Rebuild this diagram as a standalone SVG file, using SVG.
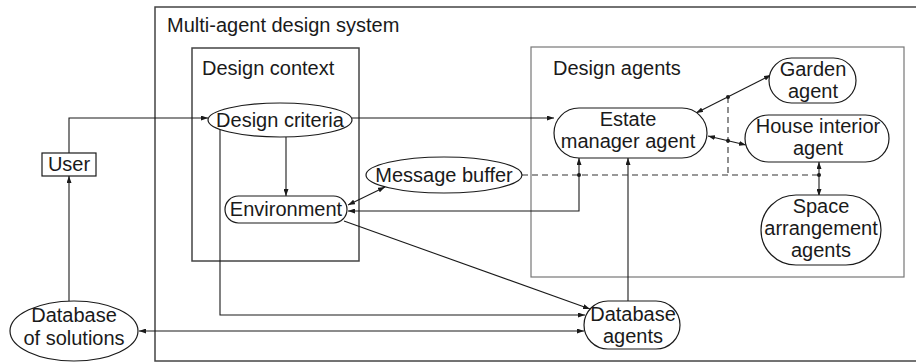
<svg xmlns="http://www.w3.org/2000/svg" width="916" height="363" viewBox="0 0 916 363">
  <style>
    text { font-family: "Liberation Sans", Arial, sans-serif; font-size: 20px; fill: #1a1a1a; }
    .mid { text-anchor: middle; }
    .node { fill: #fff; stroke: #1a1a1a; stroke-width: 1.2; }
    .frame { fill: none; stroke: #444; stroke-width: 1.5; }
    .frame2 { fill: none; stroke: #777; stroke-width: 1.2; }
    .link { fill: none; stroke: #1a1a1a; stroke-width: 1.1; }
    .arr { marker-end: url(#ah); }
    .both { marker-start: url(#ah); marker-end: url(#ah); }
    .dash { fill: none; stroke: #333; stroke-width: 1.1; stroke-dasharray: 6 4; }
    .dot { fill: #1a1a1a; }
  </style>
  <defs>
    <marker id="ah" markerUnits="userSpaceOnUse" markerWidth="7" markerHeight="5" refX="7" refY="2.5" orient="auto-start-reverse">
      <path d="M0,0 L7,2.5 L0,5 z" fill="#1a1a1a"/>
    </marker>
  </defs>

  <rect width="916" height="363" fill="#fff"/>

  <!-- frames -->
  <g id="multi-agent-system">
    <rect class="frame" x="155" y="7" width="765" height="354"/>
    <text x="167" y="32">Multi-agent design system</text>
  </g>
  <g id="design-context">
    <rect class="frame" x="192" y="48" width="167" height="213"/>
    <text x="202" y="75">Design context</text>
  </g>
  <g id="design-agents">
    <rect class="frame2" x="531" y="47" width="373" height="230"/>
    <text x="553" y="75">Design agents</text>
  </g>

  <!-- connectors -->
  <g id="connectors">
    <path class="link arr" d="M69,153 V118 H208"/>
    <path class="link arr" d="M69,301 V176"/>
    <path class="link arr" d="M286,137 V196"/>
    <path class="link arr" d="M352,118 H554"/>
    <path class="link arr" d="M220,129 V315 H585"/>
    <path class="link both" d="M139,331 H584"/>
    <path class="link arr" d="M344,221 L590,309"/>
    <path class="link both" d="M348,205 L385,187"/>
    <path class="link both" d="M579,158 V211 H348"/>
    <path class="link arr" d="M628,301 V158"/>
    <path class="link both" d="M696,113 L771,75"/>
    <path class="link both" d="M708,136 L746,145"/>
    <path class="link both" d="M819,162 V196"/>
    <path class="dash" d="M522,175 H819"/>
    <path class="dash" d="M728,97 V175"/>
    <circle class="dot" cx="728" cy="97" r="2"/>
    <circle class="dot" cx="728" cy="140.7" r="2"/>
    <circle class="dot" cx="579" cy="175" r="2"/>
    <circle class="dot" cx="819" cy="175" r="2"/>
  </g>

  <!-- nodes -->
  <g id="user">
    <rect class="node" x="42" y="153" width="54" height="23"/>
    <text class="mid" x="69" y="171">User</text>
  </g>
  <g id="database-of-solutions">
    <ellipse class="node" cx="74" cy="331" rx="64" ry="30"/>
    <text class="mid" x="74" y="322">Database</text>
    <text class="mid" x="74" y="345">of solutions</text>
  </g>
  <g id="design-criteria">
    <ellipse class="node" cx="280" cy="120" rx="72" ry="17"/>
    <text class="mid" x="280" y="127">Design criteria</text>
  </g>
  <g id="environment">
    <rect class="node" x="225" y="196" width="122" height="27" rx="13.5"/>
    <text class="mid" x="286" y="216">Environment</text>
  </g>
  <g id="message-buffer">
    <ellipse class="node" cx="444" cy="175" rx="78" ry="18"/>
    <text class="mid" x="444" y="182">Message buffer</text>
  </g>
  <g id="estate-manager-agent">
    <rect class="node" x="554" y="108" width="153" height="50" rx="25"/>
    <text class="mid" x="628" y="126">Estate</text>
    <text class="mid" x="628" y="148">manager agent</text>
  </g>
  <g id="garden-agent">
    <rect class="node" x="769" y="58" width="87" height="45" rx="22.5"/>
    <text class="mid" x="813" y="76">Garden</text>
    <text class="mid" x="813" y="98">agent</text>
  </g>
  <g id="house-interior-agent">
    <rect class="node" x="745" y="115" width="144" height="47" rx="23.5"/>
    <text class="mid" x="818" y="133">House interior</text>
    <text class="mid" x="818" y="155">agent</text>
  </g>
  <g id="space-arrangement-agents">
    <rect class="node" x="761" y="195" width="120" height="70" rx="35"/>
    <text class="mid" x="821" y="213">Space</text>
    <text class="mid" x="821" y="235">arrangement</text>
    <text class="mid" x="821" y="257">agents</text>
  </g>
  <g id="database-agents">
    <rect class="node" x="584" y="301" width="96" height="48" rx="24"/>
    <text class="mid" x="633" y="321">Database</text>
    <text class="mid" x="633" y="343">agents</text>
  </g>
</svg>
